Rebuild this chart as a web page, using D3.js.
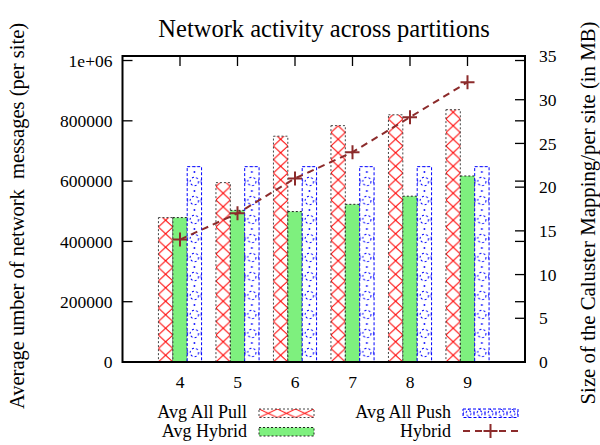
<!DOCTYPE html>
<html>
<head>
<meta charset="utf-8">
<script src="https://cdn.jsdelivr.net/npm/d3@7/dist/d3.min.js"></script>
<style>
  html, body { margin: 0; padding: 0; background: #fff; }
  svg text { font-family: "Liberation Serif", "Times New Roman", serif; fill: #000; }
</style>
</head>
<body>
<svg id="chart" width="600" height="445"></svg>
<script>
// ---- data ----
const categories = [4, 5, 6, 7, 8, 9];
const avgAllPull = [479000, 595000, 749000, 784000, 820000, 837000];
const avgHybrid  = [479000, 503000, 499000, 523000, 550000, 617000];
const avgAllPush = [648000, 648000, 648000, 648000, 648000, 648000];
const hybridMapping = [14, 17, 21, 24, 28, 32];   // MB, right axis
const yTicks  = [0, 200000, 400000, 600000, 800000, 1000000];
const yTickLabels = ["0", "200000", "400000", "600000", "800000", "1e+06"];
const y2Ticks = [0, 5, 10, 15, 20, 25, 30, 35];

const title = "Network activity across partitions";
const yLabel = "Average umber of network  messages (per site)";
const y2Label = "Size of the Caluster Mapping/per site (in MB)";

// ---- layout ----
const L = 122.5, R = 525, T = 56, B = 362;
const svg = d3.select("#chart");

const x  = d3.scaleLinear().domain([3, 10]).range([L, R]);
const y  = d3.scaleLinear().domain([0, 1015000]).range([B, T]);
const y2 = d3.scaleLinear().domain([0, 35]).range([B, T]);
const boxW = 0.25;
const bw = x(boxW) - x(0);
const TICK = 10;

// ---- patterns ----
const defs = svg.append("defs");
function crossPattern(id, w, h, ox, oy) {
  const p = defs.append("pattern").attr("id", id)
    .attr("patternUnits", "userSpaceOnUse")
    .attr("x", ox).attr("y", oy).attr("width", w).attr("height", h);
  p.append("rect").attr("width", w).attr("height", h).attr("fill", "#fff");
  p.append("path").attr("d", `M0,0L${w},${h}M${w},0L0,${h}`)
    .attr("stroke", "#ff0000").attr("stroke-width", 1).attr("fill", "none");
}
crossPattern("pullPat", bw, 13.5, x(categories[0] - boxW * 1.5), B);
crossPattern("pullLeg", 18.3, 8.5, 259, 409);

function dotPattern(id, w, h, ox, oy, r) {
  const p = defs.append("pattern").attr("id", id)
    .attr("patternUnits", "userSpaceOnUse")
    .attr("x", ox).attr("y", oy).attr("width", w).attr("height", h);
  p.append("rect").attr("width", w).attr("height", h).attr("fill", "#fff");
  p.append("circle").attr("cx", w / 2).attr("cy", h / 2).attr("r", r)
    .attr("fill", "none").attr("stroke", "#0000ff").attr("stroke-width", 1)
    .attr("stroke-dasharray", "2,2.2");
  p.append("circle").attr("cx", w / 2).attr("cy", 0).attr("r", 0.9).attr("fill", "#0000ff");
  p.append("circle").attr("cx", w / 2).attr("cy", h).attr("r", 0.9).attr("fill", "#0000ff");
  p.append("path").attr("d", `M0,${h/2 - 2}V${h/2 + 2}M${w},${h/2 - 2}V${h/2 + 2}`)
    .attr("stroke", "#0000ff").attr("stroke-width", 1.2);
}
dotPattern("pushPat", bw, 19, x(categories[0] + boxW * 0.5), B, 4.2);
dotPattern("pushLeg", 11, 8.5, 463, 409, 2.6);

// ---- ticks (behind bars) ----
const g = svg.append("g");
const tickStroke = { stroke: "#000", "stroke-width": 1.3 };
function applyAttrs(sel, a) { Object.entries(a).forEach(([k, v]) => sel.attr(k, v)); return sel; }

applyAttrs(g.selectAll(".xtb").data(categories).join("line").attr("class", "xtb")
  .attr("x1", d => x(d)).attr("x2", d => x(d)).attr("y1", B).attr("y2", B - TICK), tickStroke);
applyAttrs(g.selectAll(".xtt").data(categories).join("line").attr("class", "xtt")
  .attr("x1", d => x(d)).attr("x2", d => x(d)).attr("y1", T).attr("y2", T + TICK), tickStroke);
applyAttrs(g.selectAll(".ytl").data(yTicks).join("line").attr("class", "ytl")
  .attr("x1", L).attr("x2", L + TICK).attr("y1", d => y(d)).attr("y2", d => y(d)), tickStroke);
applyAttrs(g.selectAll(".ytr").data(yTicks).join("line").attr("class", "ytr")
  .attr("x1", R).attr("x2", R - TICK).attr("y1", d => y(d)).attr("y2", d => y(d)), tickStroke);
applyAttrs(g.selectAll(".y2t").data(y2Ticks).join("line").attr("class", "y2t")
  .attr("x1", R).attr("x2", R - TICK).attr("y1", d => y2(d)).attr("y2", d => y2(d)), tickStroke);

// ---- bars ----
const bars = svg.append("g");
function drawBars(vals, offset, fill, stroke, dash) {
  bars.selectAll(null).data(categories).join("rect")
    .attr("x", d => x(d + offset) - bw / 2)
    .attr("width", bw)
    .attr("y", (d, i) => y(vals[i]))
    .attr("height", (d, i) => B - y(vals[i]))
    .attr("fill", fill)
    .attr("stroke", stroke)
    .attr("stroke-width", 1)
    .attr("stroke-dasharray", dash);
}
drawBars(avgAllPull, -boxW, "url(#pullPat)", "#444", "2,2");
drawBars(avgHybrid, 0, "#7ef07e", "#222", "2,2");
drawBars(avgAllPush, boxW, "url(#pushPat)", "#0000ff", "3,2");

// ---- line on y2 ----
const lineColor = "#8c2b2b";
const line = d3.line().x((d, i) => x(categories[i])).y(d => y2(d));
svg.append("path").datum(hybridMapping).attr("d", line)
  .attr("fill", "none").attr("stroke", lineColor).attr("stroke-width", 2)
  .attr("stroke-dasharray", "7,5");
const plusPath = s => `M${-s},0H${s}M0,${-s}V${s}`;
svg.selectAll(".pt").data(hybridMapping).join("path").attr("class", "pt")
  .attr("transform", (d, i) => `translate(${x(categories[i])},${y2(d)})`)
  .attr("d", plusPath(7)).attr("stroke", lineColor).attr("stroke-width", 2).attr("fill", "none");

// ---- border ----
svg.append("rect").attr("x", L).attr("y", T).attr("width", R - L).attr("height", B - T)
  .attr("fill", "none").attr("stroke", "#000").attr("stroke-width", 2);

// ---- tick labels ----
const FS = 17.5;
svg.selectAll(".yl").data(yTicks).join("text").attr("class", "yl")
  .attr("x", L - 10).attr("y", d => y(d)).attr("dy", "0.35em")
  .attr("text-anchor", "end").attr("font-size", FS)
  .text((d, i) => yTickLabels[i]);
svg.selectAll(".y2l").data(y2Ticks).join("text").attr("class", "y2l")
  .attr("x", R + 14).attr("y", d => y2(d)).attr("dy", "0.35em")
  .attr("text-anchor", "start").attr("font-size", FS)
  .text(d => d);
svg.selectAll(".xl").data(categories).join("text").attr("class", "xl")
  .attr("x", d => x(d)).attr("y", B + 26)
  .attr("text-anchor", "middle").attr("font-size", FS)
  .text(d => d);

// ---- titles ----
svg.append("text").attr("x", 324).attr("y", 37).attr("text-anchor", "middle")
  .attr("font-size", 24.5).text(title);
svg.append("text").attr("transform", "translate(24,216) rotate(-90)")
  .attr("text-anchor", "middle").attr("font-size", 20.5)
  .style("white-space", "pre").text(yLabel);
svg.append("text").attr("transform", "translate(595,213) rotate(-90)")
  .attr("text-anchor", "middle").attr("font-size", 20.8).text(y2Label);

// ---- legend ----
const LFS = 18;
const leg = svg.append("g");
const legItems = [
  { label: "Avg All Pull", tx: 247, ty: 418, kind: "box", fill: "url(#pullLeg)", stroke: "#444", dash: "2,2", sx: 259, sy: 409 },
  { label: "Avg Hybrid",   tx: 247, ty: 437, kind: "box", fill: "#7ef07e", stroke: "#222", dash: "2,2", sx: 259, sy: 427.5 },
  { label: "Avg All Push", tx: 451, ty: 418, kind: "box", fill: "url(#pushLeg)", stroke: "#0000ff", dash: "3,2", sx: 463, sy: 409 },
  { label: "Hybrid",       tx: 451, ty: 437, kind: "line", sx: 463, sy: 431 }
];
legItems.forEach(it => {
  leg.append("text").attr("x", it.tx).attr("y", it.ty).attr("text-anchor", "end")
    .attr("font-size", LFS).text(it.label);
  if (it.kind === "box") {
    leg.append("rect").attr("x", it.sx).attr("y", it.sy).attr("width", 55).attr("height", 8.5)
      .attr("fill", it.fill).attr("stroke", it.stroke).attr("stroke-dasharray", it.dash);
  } else {
    leg.append("line").attr("x1", it.sx).attr("x2", it.sx + 55).attr("y1", it.sy).attr("y2", it.sy)
      .attr("stroke", lineColor).attr("stroke-width", 2).attr("stroke-dasharray", "7,5");
    leg.append("path").attr("transform", `translate(${it.sx + 27.5},${it.sy})`)
      .attr("d", plusPath(7)).attr("stroke", lineColor).attr("stroke-width", 2).attr("fill", "none");
  }
});
</script>
</body>
</html>
